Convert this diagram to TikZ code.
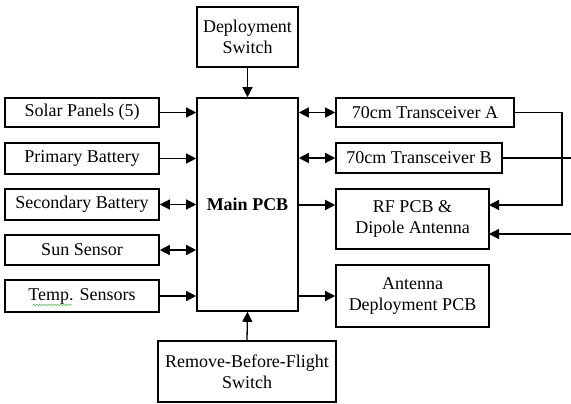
\documentclass[tikz,border=0pt]{standalone}
\usepackage{fontspec}
\setmainfont{Liberation Serif}
\usetikzlibrary{arrows.meta,decorations.pathmorphing}
\begin{document}
\begin{tikzpicture}[x=1pt,y=-1pt,
  box/.style={draw,line width=1.6pt,rectangle,inner sep=0pt,align=center,
    font=\fontsize{18}{21}\selectfont},
  tip/.style={},
  link/.style={line width=1.3pt,-{Triangle[length=10pt,width=10pt]}},
  duplex/.style={line width=1.3pt,{Triangle[length=10pt,width=10pt]}-{Triangle[length=10pt,width=10pt]}},
  wire/.style={line width=1.3pt}]
\useasboundingbox (0,0) rectangle (571,404);

% central board and switches
\node[box,minimum width=101pt,minimum height=213pt] (main) at (247.5,204.5) {\textbf{Main PCB}};
\node[box,minimum width=101pt,minimum height=60pt] (dep) at (247.5,37) {Deployment\\Switch};
\node[box,minimum width=178pt,minimum height=61pt] (rbf) at (247,371.5) {Remove-Before-Flight\\Switch};

% power and sensor blocks
\node[box,minimum width=154pt,minimum height=29pt] (solar) at (82,112.5) {Solar Panels (5)};
\node[box,minimum width=154pt,minimum height=31pt] (prim) at (82,158.5) {Primary Battery};
\node[box,minimum width=154pt,minimum height=31pt] (sec) at (82,204.5) {Secondary Battery};
\node[box,minimum width=154pt,minimum height=30pt] (sun) at (82,250) {Sun Sensor};
\node[box,minimum width=154pt,minimum height=32pt] (temp) at (82,296) {Temp. Sensors};

% radio blocks
\node[box,minimum width=178pt,minimum height=29pt] (ta) at (425,112.5) {70cm Transceiver A};
\node[box,minimum width=166pt,minimum height=30pt] (tb) at (419,158) {70cm Transceiver B};
\node[box,minimum width=153pt,minimum height=60pt] (rf) at (412.5,219) {RF PCB \&\\Dipole Antenna};
\node[box,minimum width=153pt,minimum height=62pt] (ad) at (412.5,296) {Antenna\\Deployment PCB};

% switch inputs
\draw[link] (dep.south) -- (main.north);
\draw[link] (rbf.north) -- (main.south);

% left side links
\draw[link] (solar.east) -- (solar.east -| main.west);
\draw[link] (prim.east) -- (prim.east -| main.west);
\draw[duplex] (sec.east) -- (sec.east -| main.west);
\draw[duplex] (sun.east) -- (sun.east -| main.west);
\draw[link] (temp.east) -- (temp.east -| main.west);

% right side links
\draw[duplex] (ta.west -| main.east) -- (ta.west);
\draw[duplex] (tb.west -| main.east) -- (tb.west);
\coordinate (rfa) at (489,205);
\coordinate (rfb) at (489,234);
\draw[link] (rfa -| main.east) -- (rf.west |- rfa);
\draw[link] (ad.west -| main.east) -- (ad.west);

% transceiver feeds to the antenna board
\coordinate (aturn) at (562,112.5);
\coordinate (bout) at (571,158);
\coordinate (bin) at (571,234);
\draw[wire] (ta.east) -- (aturn);
\draw[link] (aturn) |- (rfa);
\draw[wire] (tb.east) -- (bout);
\draw[link] (bin) -- (rfb);

% spell-check underline
\draw[green!60!black!60,line width=0.6pt,decorate,decoration={snake,amplitude=0.8pt,segment length=3pt}] (33,305) -- (72,305);
\end{tikzpicture}
\end{document}
